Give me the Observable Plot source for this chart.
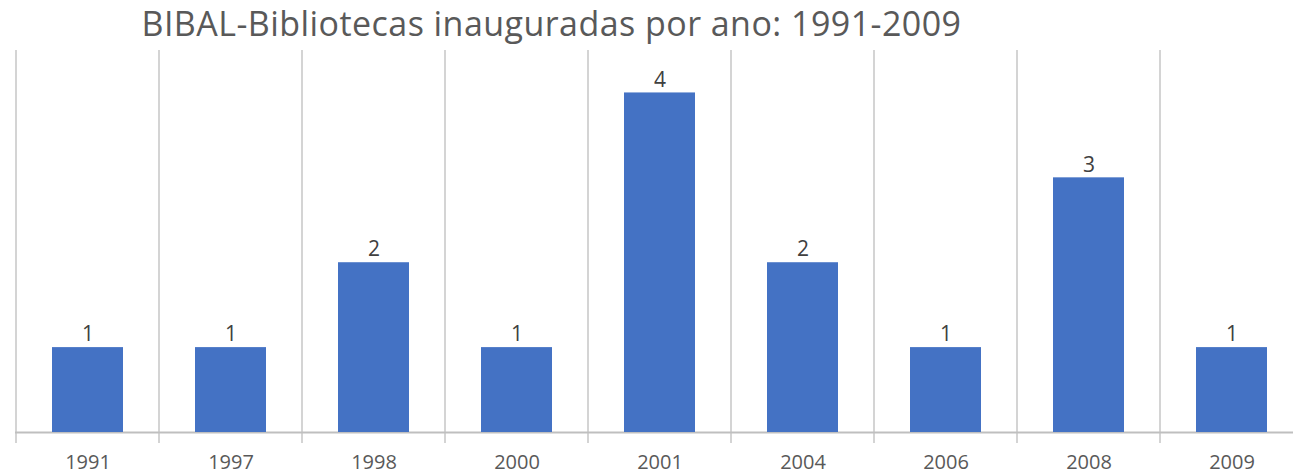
<!DOCTYPE html>
<html>
<head>
<meta charset="utf-8">
<script src="https://cdn.jsdelivr.net/npm/d3@7"></script>
<script src="https://cdn.jsdelivr.net/npm/@observablehq/plot@0.6"></script>
<style>
  html, body { margin: 0; padding: 0; background: #ffffff; }
  #wrap { position: relative; width: 1293px; height: 475px; overflow: hidden; }
  #title { position: absolute; left: 0; top: 0; width: 1103px; line-height: normal;
           text-align: center; font-family: "Open Sans", sans-serif; font-size: 34px; letter-spacing: 0.45px;
           color: #595959; white-space: nowrap; }
  #chart { position: absolute; left: 0; top: 44px; }
</style>
</head>
<body>
<div id="wrap">
  <div id="title">BIBAL-Bibliotecas inauguradas por ano: 1991-2009</div>
  <div id="chart"></div>
</div>
<script>
const years = ["1991", "1997", "1998", "2000", "2001", "2004", "2006", "2008", "2009"];
const counts = [1, 1, 2, 1, 4, 2, 1, 3, 1];

const data = years.map((y, i) => ({year: y, count: counts[i]}));

const chart = Plot.plot({
  width: 1293,
  height: 431,
  marginTop: 6,
  marginBottom: 43,
  marginLeft: 15,
  marginRight: 0,
  style: {fontFamily: "Open Sans, sans-serif", background: "#ffffff"},
  x: {type: "band", domain: years, range: [16, 16 + 9 * 143], padding: 0, label: null},
  y: {domain: [0, 4.5], axis: null},
  marks: [
    Plot.barY(years, {x: d => d, y1: 0, y2: 4.5, fill: "#d4d4d4", insetLeft: -1, insetRight: 142, insetBottom: -11}),
    Plot.ruleY([0], {stroke: "#bfbfbf", strokeWidth: 2}),
    Plot.barY(data, {x: "year", y: "count", fill: "#4472c4", insetLeft: 36, insetRight: 36}),
    Plot.text(data, {x: "year", y: "count", text: d => String(d.count), dy: -13, lineAnchor: "middle", fontSize: 21, fill: "#404040"}),
    Plot.axisX({tickSize: 0, tickPadding: 22, fontSize: 20, color: "#595959", label: null})
  ]
});
document.getElementById("chart").appendChild(chart);
</script>
</body>
</html>
